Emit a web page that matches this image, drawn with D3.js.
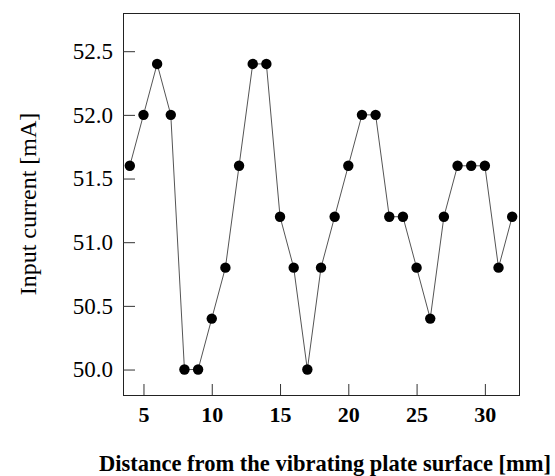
<!DOCTYPE html>
<html>
<head>
<meta charset="utf-8">
<script src="https://cdn.jsdelivr.net/npm/d3@7"></script>
<style>
  body { margin: 0; background: #fff; }
  svg { display: block; }
  .tick text { font-family: 'Liberation Serif', 'Times New Roman', serif; }
</style>
</head>
<body>
<div id="chart"></div>
<script>
var width = 555,
    height = 476;

// distance from plate [mm]
var distance = [4, 5, 6, 7, 8, 9, 10, 11, 12, 13, 14, 15, 16, 17, 18, 19, 20,
                21, 22, 23, 24, 25, 26, 27, 28, 29, 30, 31, 32];
// input current [mA]
var current = [51.6, 52.0, 52.4, 52.0, 50.0, 50.0, 50.4, 50.8, 51.6, 52.4, 52.4,
               51.2, 50.8, 50.0, 50.8, 51.2, 51.6, 52.0, 52.0, 51.2, 51.2, 50.8,
               50.4, 51.2, 51.6, 51.6, 51.6, 50.8, 51.2];
var xTicks = [5, 10, 15, 20, 25, 30];
var yTicks = [50.0, 50.5, 51.0, 51.5, 52.0, 52.5];

var margin = {top: 13, right: 36, bottom: 81, left: 123};
var w = width - margin.left - margin.right,
    h = height - margin.top - margin.bottom;

var serif = "'Liberation Serif', 'Times New Roman', serif";

var svg = d3.select("#chart")
    .append("svg")
    .attr("width", width)
    .attr("height", height);

var g = svg.append("g")
    .attr("transform", "translate(" + margin.left + "," + margin.top + ")");

var x = d3.scaleLinear().domain([3.5, 32.5]).range([0, w]);
var y = d3.scaleLinear().domain([49.8, 52.8]).range([h, 0]);

var data = distance.map(function (d, i) { return {x: d, y: current[i]}; });

// frame
g.append("rect")
    .attr("x", 0.5).attr("y", 0.5)
    .attr("width", w).attr("height", h)
    .attr("fill", "none")
    .attr("stroke", "#222")
    .attr("stroke-width", 1);

// axes, ticks pointing inward
var xAxis = g.append("g")
    .attr("transform", "translate(0," + h + ")")
    .call(d3.axisBottom(x).tickValues(xTicks).tickSizeInner(-11).tickSizeOuter(0)
        .tickPadding(11).tickFormat(d3.format("d")))
    .attr("font-family", serif)
    .attr("font-size", 22)
    .attr("font-weight", "bold");
xAxis.select(".domain").remove();
xAxis.selectAll("line").attr("stroke", "#333");
xAxis.selectAll("text").attr("fill", "#000");

var yAxis = g.append("g")
    .call(d3.axisLeft(y).tickValues(yTicks).tickSizeInner(-12).tickSizeOuter(0)
        .tickPadding(10).tickFormat(d3.format(".1f")))
    .attr("font-family", serif)
    .attr("font-size", 23);
yAxis.select(".domain").remove();
yAxis.selectAll("line").attr("stroke", "#333");
yAxis.selectAll("text").attr("fill", "#000");

// line and markers
var line = d3.line()
    .x(function (d) { return x(d.x); })
    .y(function (d) { return y(d.y); });

g.append("path")
    .datum(data)
    .attr("d", line)
    .attr("fill", "none")
    .attr("stroke", "#555")
    .attr("stroke-width", 1);

g.selectAll("circle")
    .data(data)
    .enter()
    .append("circle")
    .attr("cx", function (d) { return x(d.x); })
    .attr("cy", function (d) { return y(d.y); })
    .attr("r", 5.2)
    .attr("fill", "#000");

// axis titles
svg.append("text")
    .attr("transform", "translate(36," + (margin.top + h / 2) + ") rotate(-90)")
    .attr("text-anchor", "middle")
    .style("font-family", serif)
    .style("font-size", "24px")
    .text("Input current [mA]");

svg.append("text")
    .attr("x", 325)
    .attr("y", 471)
    .attr("text-anchor", "middle")
    .style("font-family", serif)
    .style("font-size", "22.5px")
    .style("font-weight", "bold")
    .text("Distance from the vibrating plate surface [mm]");
</script>
</body>
</html>
